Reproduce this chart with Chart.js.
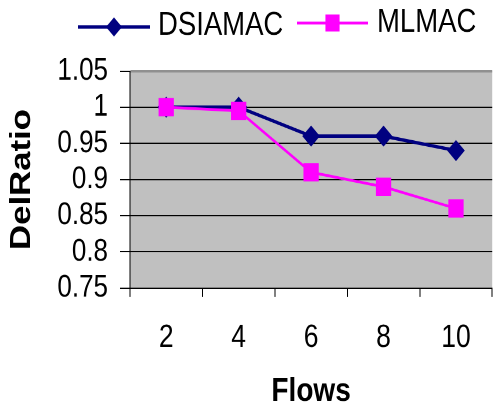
<!DOCTYPE html>
<html>
<head>
<meta charset="utf-8">
<script src="https://cdn.jsdelivr.net/npm/chart.js@4/dist/chart.umd.min.js"></script>
<style>
  html { margin: 0; padding: 0; overflow: hidden; background: #fff; }
  body { margin: 0; padding: 0; width: 501px; height: 411px; background: #fff; }
  /* the chart is drawn at 503x343 and stretched to the page height */
  #c { display: block; width: 503px; height: 343px; transform: scaleY(1.19825); transform-origin: 0 0; }
</style>
</head>
<body>
<canvas id="c" width="503" height="343"></canvas>
<script>
// Delivery ratio versus number of flows
const flows = ['2', '4', '6', '8', '10'];
const dsiamac = [1.0, 1.0, 0.96, 0.96, 0.94];
const mlmac = [1.0, 0.995, 0.91, 0.89, 0.86];
const yTicks = [0.75, 0.8, 0.85, 0.9, 0.95, 1, 1.05];

const SANS = "'Liberation Sans', Arial, sans-serif";

// gray plot area behind the series
const plotFill = {
  id: 'plotFill',
  beforeDraw(chart) {
    const { ctx, chartArea: a } = chart;
    ctx.save();
    ctx.fillStyle = '#c0c0c0';
    ctx.fillRect(a.left, a.top, a.right - a.left, a.bottom - a.top);
    ctx.restore();
  }
};

// legend entries: line segment with marker, then the series name
const lineLegend = {
  id: 'lineLegend',
  afterDraw(chart) {
    const { ctx } = chart;
    const entries = [
      { ds: chart.data.datasets[0], x0: 78, x1: 150, y: 22.5, tx: 158, ty: 21.5 },
      { ds: chart.data.datasets[1], x0: 297, x1: 368, y: 19.2, tx: 377, ty: 18.8 }
    ];
    ctx.save();
    entries.forEach(e => {
      ctx.strokeStyle = e.ds.borderColor;
      ctx.lineWidth = e.ds.borderWidth;
      ctx.beginPath();
      ctx.moveTo(e.x0, e.y);
      ctx.lineTo(e.x1, e.y);
      ctx.stroke();
      ctx.fillStyle = e.ds.pointBackgroundColor;
      ctx.strokeStyle = e.ds.pointBackgroundColor;
      ctx.lineWidth = 0;
      Chart.helpers.drawPoint(ctx, {
        pointStyle: e.ds.pointStyle,
        radius: e.ds.legendRadius,
        borderWidth: 0
      }, (e.x0 + e.x1) / 2, e.y);
      ctx.fillStyle = '#000';
      ctx.font = '27.5px ' + SANS;
      ctx.textAlign = 'left';
      ctx.textBaseline = 'middle';
      ctx.fillText(e.ds.label, e.tx, e.ty);
    });
    ctx.restore();
  }
};

new Chart(document.getElementById('c'), {
  type: 'line',
  data: {
    labels: flows,
    datasets: [
      {
        label: 'DSIAMAC',
        data: dsiamac,
        borderColor: '#000080',
        backgroundColor: '#000080',
        pointBackgroundColor: '#000080',
        pointBorderColor: '#000080',
        borderWidth: 2.8,
        pointStyle: 'rectRot',
        pointRadius: 8.8,
        pointBorderWidth: 0,
        legendRadius: 8,
        tension: 0,
        order: 1
      },
      {
        label: 'MLMAC',
        data: mlmac,
        borderColor: '#ff00ff',
        backgroundColor: '#ff00ff',
        pointBackgroundColor: '#ff00ff',
        pointBorderColor: '#ff00ff',
        borderWidth: 2.3,
        pointStyle: 'rect',
        pointRadius: 10.8,
        pointBorderWidth: 0,
        legendRadius: 10,
        tension: 0,
        order: 0
      }
    ]
  },
  options: {
    responsive: false,
    animation: false,
    devicePixelRatio: 2,
    events: [],
    layout: { padding: { top: 59.25, left: 0, right: 0, bottom: 0 } },
    plugins: {
      legend: { display: false },
      tooltip: { enabled: false }
    },
    scales: {
      x: {
        type: 'category',
        offset: true,
        afterFit(scale) { scale.height = 102.65; },
        grid: {
          offset: true,
          drawOnChartArea: false,
          drawTicks: true,
          tickLength: 7.5,
          tickColor: '#000',
          tickWidth: 1
        },
        border: { display: true, color: '#000', width: 1 },
        ticks: {
          color: '#000',
          padding: 18.6,
          maxRotation: 0,
          autoSkip: false,
          font: { family: SANS, size: 26.5, lineHeight: 1.2 }
        },
        title: {
          display: true,
          text: 'Flows',
          color: '#000',
          padding: { top: 2, bottom: 2 },
          font: { family: SANS, size: 28, weight: 'bold', lineHeight: 1 }
        }
      },
      y: {
        min: 0.75,
        max: 1.05,
        afterFit(scale) { scale.width = 130; },
        afterBuildTicks(scale) {
          scale.ticks = yTicks.map(v => ({ value: v }));
        },
        grid: {
          color: ctx => (ctx.tick && ctx.tick.value === 1.05 ? '#909090' : '#000'),
          lineWidth: ctx => (ctx.tick && ctx.tick.value === 1.05 ? 2 : 1),
          tickColor: '#000',
          tickWidth: 1,
          tickLength: 10,
          drawTicks: true
        },
        border: { display: true, color: '#000', width: 1 },
        ticks: {
          color: '#000',
          padding: 12,
          autoSkip: false,
          font: { family: SANS, size: 26 },
          callback: v => String(Math.round(v * 100) / 100)
        },
        title: {
          display: true,
          text: 'DelRatio',
          color: '#000',
          padding: { top: 7.5, bottom: 7.5 },
          font: { family: SANS, size: 29, weight: 'bold', lineHeight: 1 }
        }
      }
    }
  },
  plugins: [plotFill, lineLegend]
});
</script>
</body>
</html>
